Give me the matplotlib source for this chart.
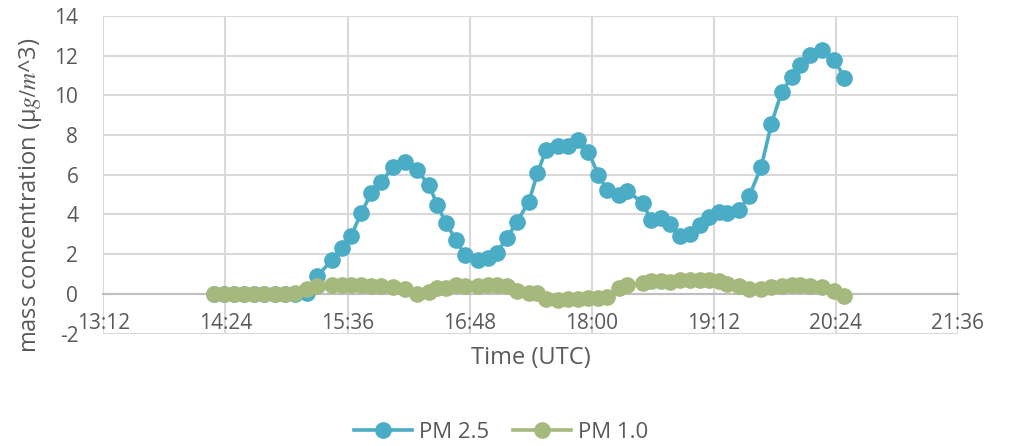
import matplotlib
matplotlib.use("Agg")
import matplotlib.pyplot as plt

plt.rcParams['font.family'] = ['Open Sans', 'DejaVu Sans']
plt.rcParams['axes.unicode_minus'] = False
plt.rcParams['mathtext.fontset'] = 'stix'

times = ["14:17", "14:23", "14:29", "14:35", "14:41", "14:47", "14:53", "14:59", "15:05", "15:12",
         "15:18", "15:27", "15:33", "15:38", "15:44", "15:50", "15:56", "16:03", "16:10", "16:17",
         "16:24", "16:29", "16:34", "16:40", "16:45", "16:53", "16:59", "17:04", "17:10", "17:16",
         "17:23", "17:28", "17:33", "17:40", "17:46", "17:52", "17:58", "18:04", "18:09", "18:16",
         "18:21", "18:30", "18:35", "18:41", "18:46", "18:52", "18:58", "19:04", "19:09", "19:15",
         "19:20", "19:27", "19:33", "19:40", "19:46", "19:52", "19:58", "20:03", "20:09", "20:16",
         "20:23", "20:29"]

pm25 = [0, 0, 0, 0, 0, 0, 0, 0, 0, 0.05,
        0.88, 1.72, 2.31, 2.89, 4.06, 5.07, 5.65, 6.40, 6.65, 6.24,
        5.48, 4.48, 3.56, 2.72, 1.97, 1.72, 1.81, 2.06, 2.81, 3.64,
        4.65, 6.07, 7.24, 7.45, 7.45, 7.75, 7.16, 5.99, 5.23, 4.98,
        5.20, 4.57, 3.73, 3.81, 3.52, 2.89, 3.00, 3.48, 3.85, 4.14,
        4.06, 4.23, 4.95, 6.40, 8.58, 10.17, 10.92, 11.55, 12.01, 12.30,
        11.80, 10.90]

pm10 = [0, 0, 0, 0, 0, 0, 0, 0.0, 0.05, 0.25,
        0.38, 0.42, 0.45, 0.42, 0.42, 0.40, 0.40, 0.35, 0.25, 0.0,
        0.10, 0.30, 0.30, 0.42, 0.38, 0.40, 0.42, 0.42, 0.40, 0.15,
        0.05, 0.05, -0.25, -0.30, -0.28, -0.25, -0.22, -0.20, -0.15, 0.30,
        0.45, 0.55, 0.65, 0.65, 0.60, 0.68, 0.72, 0.72, 0.72, 0.65,
        0.50, 0.38, 0.25, 0.22, 0.35, 0.40, 0.42, 0.45, 0.40, 0.35,
        0.15, -0.10]

xtick_labels = ["13:12", "14:24", "15:36", "16:48", "18:00", "19:12", "20:24", "21:36"]
yticks = [-2, 0, 2, 4, 6, 8, 10, 12, 14]


def to_min(s):
    h, m = s.split(":")
    return int(h) * 60 + int(m)


x = [to_min(t) for t in times]
xt = [to_min(t) for t in xtick_labels]

W, H = 1013, 446
fig = plt.figure(figsize=(W / 100, H / 100), dpi=100)
ax = fig.add_axes([103.3 / W, 1 - 333.5 / H, (958 - 103.3) / W, (333.5 - 16) / H])

blue = '#4bacc6'
green = '#a6b97c'
tc = '#595959'

ax.plot(x, pm25, color=blue, lw=2.6, marker='o', ms=11, mfc=blue, mec=blue,
        label='PM 2.5', zorder=3)
ax.plot(x, pm10, color=green, lw=2.6, marker='o', ms=11, mfc=green, mec=green,
        label='PM 1.0', zorder=4)

ax.set_xlim(xt[0], xt[-1])
ax.set_ylim(-2, 14)
ax.set_xticks(xt)
ax.set_xticklabels(xtick_labels)
ax.set_yticks(yticks)
ax.set_yticklabels([str(v) for v in yticks])

ax.grid(True, color='#d9d9d9', lw=1.5)
ax.set_axisbelow(True)
for s in ['top', 'right', 'left']:
    ax.spines[s].set_visible(False)
ax.spines['bottom'].set_position(('data', 0))
ax.spines['bottom'].set_color('#bfbfbf')
ax.spines['bottom'].set_linewidth(1.5)

ax.tick_params(axis='x', length=0, pad=14, labelsize=15, labelcolor=tc)
ax.tick_params(axis='y', length=0, pad=18, labelsize=15, labelcolor=tc)

fig.text(531 / W, 1 - 358 / H, 'Time (UTC)', ha='center', va='center',
         fontsize=17, color=tc)
fig.text(31 / W, 1 - 195 / H, r'mass concentration (μ$g/m$^3)', rotation=90,
         ha='center', va='center', fontsize=17, color=tc)

fig.legend(loc='center', bbox_to_anchor=(501 / W, 1 - 432 / H), ncol=2, frameon=False,
           fontsize=16, labelcolor=tc, handlelength=2.6, handletextpad=0.3,
           columnspacing=1.1)

fig.savefig('out.png', dpi=100)
